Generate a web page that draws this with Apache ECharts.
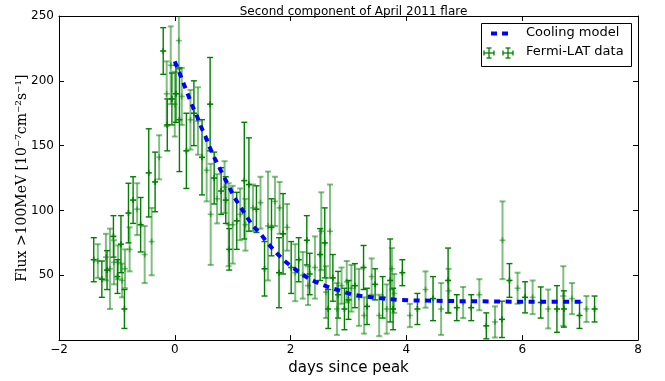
<!DOCTYPE html>
<html><head><meta charset="utf-8">
<script src="https://cdn.jsdelivr.net/npm/echarts@6/dist/echarts.min.js"></script>
<style>html,body{margin:0;padding:0;background:#fff}#c{width:665px;height:381px}</style>
</head><body><div id="c"></div>
<script>
// Fermi-LAT data (days since peak, flux, error)
const dayX = [-1.40,-1.33,-1.26,-1.19,-1.17,-1.12,-1.06,-1.05,-0.99,-0.98,-0.93,-0.91,-0.87,-0.86,-0.80,-0.78,-0.72,-0.65,-0.59,-0.52,-0.45,-0.40,-0.34,-0.27,
 -0.20,-0.14,-0.13,-0.07,-0.05,0.00,0.02,0.07,0.08,0.12,0.20,0.27,0.33,0.40,0.47,0.55,0.61,0.62,0.68,0.73,0.80,0.86,0.88,0.93,0.94,1.00,1.07,1.13,1.20,1.22,1.28,1.35,1.41,1.48,1.55,1.61,1.67,1.73,1.80,1.81,1.87,1.94,
 2.01,2.08,2.14,2.21,2.28,2.30,2.33,2.42,2.51,2.53,2.59,2.61,2.65,2.68,2.73,2.80,2.82,2.88,2.93,2.97,3.00,3.05,3.11,3.18,3.26,3.27,3.32,3.40,3.46,3.53,3.59,3.66,3.72,3.75,3.77,3.79,3.93,
 4.06,4.19,4.33,4.46,4.60,4.72,4.73,4.87,4.98,5.12,5.26,5.38,5.53,5.65,5.66,5.78,5.92,6.05,6.18,6.32,6.45,6.60,6.71,6.72,6.86,6.99,7.11,7.25];
const flux = [62,61,47,64,54,55,80,60,49,60,74,46,24,55,98,70,108,101,89,66,129,76,122,141,
 223,190,166,212,186,182,190,231,170,188,146,170,175,169,141,131,182,97,125,109,115,118,108,89,70,89,92,97,123,89,120,102,101,106,55,88,87,107,52,102,82,87,
 56,52,62,50,77,42,51,56,66,84,75,37,24,84,48,24,35,42,24,45,31,40,42,33,56,19,26,49,43,19,33,24,46,55,24,36,52,
 19,24,39,32,24,46,38,25,29,25,35,11,14,16,77,46,40,33,33,29,24,24,34,24,32,19,24,24];
const fluxErr = [17,13,14,18,15,31,16,17,13,13,22,13,15,15,23,17,18,20,21,22,34,26,23,17,
 18,25,20,30,20,25,22,22,40,22,29,23,25,26,29,24,36,39,20,19,18,20,18,32,16,30,22,20,45,20,36,18,18,20,21,42,22,19,27,20,31,18,
 20,22,17,18,19,15,16,24,20,30,27,20,15,36,18,20,18,14,16,16,15,18,17,22,17,14,14,14,12,16,16,19,32,16,16,15,10,
 9,12,14,17,20,25,17,10,12,10,12,10,12,14,30,13,12,12,13,12,15,18,23,14,12,10,10,10];
// Cooling model
const modelX = [0,0.09,0.16,0.23,0.30,0.38,0.45,0.53,0.60,0.68,0.77,0.86,0.94,1.03,1.13,1.23,1.35,1.48,1.60,1.74,1.87,2.01,2.16,2.33,2.53,2.71,2.90,3.08,3.27,3.47,3.66,3.86,4.06,4.5,5.0,5.5,6.0,6.5,7.1];
const modelY = [215,205,197,189,181,173,165,157,149,141,133,125,118,110,103,96,88,82,75,68,62,57,52,47,43,40,37.5,35,33.7,32.7,31.7,31,30.7,30.3,30,29.8,29.6,29.5,29.5];
const xTicks = [-2,0,2,4,6,8];
const yTicks = [50,100,150,200,250];

const chart = echarts.init(document.getElementById('c'), null, {renderer:'canvas'});
const errData = dayX.map((x,i)=>[x, flux[i], fluxErr[i], i%2]);
const modelData = modelX.map((x,i)=>[x, modelY[i]]);
const DARK = '#007f00', LIGHT = 'rgba(0,128,0,0.5)';

function renderErr(params, api){
  const x = api.value(0), y = api.value(1), e = api.value(2), light = api.value(3) === 1;
  const c = api.coord([x,y]), t = api.coord([x,y+e]), b = api.coord([x,y-e]);
  const col = light ? LIGHT : DARK, lw = light ? 2 : 1.4;
  const st = {stroke: col, lineWidth: lw, fill: null};
  return {type:'group', children:[
    {type:'line', shape:{x1:c[0],y1:t[1],x2:c[0],y2:b[1]}, style:st},
    {type:'line', shape:{x1:c[0]-3,y1:t[1],x2:c[0]+3,y2:t[1]}, style:st},
    {type:'line', shape:{x1:c[0]-3,y1:b[1],x2:c[0]+3,y2:b[1]}, style:st},
    {type:'line', shape:{x1:c[0]-3,y1:c[1],x2:c[0]+3,y2:c[1]}, style:{stroke:col,lineWidth:1.6}},
    {type:'line', shape:{x1:c[0],y1:c[1]-3,x2:c[0],y2:c[1]+3}, style:{stroke:col,lineWidth:1.6}}
  ]};
}
const minus = v => String(v).replace('-', '\u2212');
const baseX = {type:'value', min:-2, max:8, interval:2, splitLine:{show:false},
  axisLine:{onZero:false, lineStyle:{color:'#000', width:1}},
  axisTick:{inside:true, length:5, lineStyle:{color:'#000'}}};
const baseY = {type:'value', min:0, max:250, interval:50, splitLine:{show:false},
  axisLine:{onZero:false, lineStyle:{color:'#000', width:1}},
  axisTick:{inside:true, length:5, lineStyle:{color:'#000'}}};
const tickFont = {fontFamily:'DejaVu Sans', fontSize:12, color:'#000'};

function errIcon(cx, cy){
  const s = {stroke:DARK, lineWidth:1.3};
  return [
    {type:'line', z:12, shape:{x1:cx,y1:cy-5,x2:cx,y2:cy+5}, style:s},
    {type:'line', z:12, shape:{x1:cx-2.5,y1:cy-5,x2:cx+2.5,y2:cy-5}, style:s},
    {type:'line', z:12, shape:{x1:cx-2.5,y1:cy+5,x2:cx+2.5,y2:cy+5}, style:s},
    {type:'line', z:12, shape:{x1:cx-5,y1:cy,x2:cx+5,y2:cy}, style:s},
    {type:'line', z:12, shape:{x1:cx-5,y1:cy-2.5,x2:cx-5,y2:cy+2.5}, style:s},
    {type:'line', z:12, shape:{x1:cx+5,y1:cy-2.5,x2:cx+5,y2:cy+2.5}, style:s}
  ];
}

chart.setOption({
  animation:false,
  backgroundColor:'#fff',
  title:{text:'Second component of April 2011 flare', left:348.5, textAlign:'center', top:1,
    textStyle:{fontFamily:'DejaVu Sans', fontSize:12, fontWeight:'normal', color:'#000'}},
  grid:{left:59, right:27, top:16, bottom:38},
  xAxis:[
    Object.assign({}, baseX, {position:'bottom', name:'days since peak', nameLocation:'middle', nameGap:19,
      nameTextStyle:{fontFamily:'DejaVu Sans', fontSize:15, color:'#000'},
      axisLabel:Object.assign({formatter:minus, margin:4}, tickFont)}),
    Object.assign({}, baseX, {position:'top', axisLabel:{show:false}})
  ],
  yAxis:[
    Object.assign({}, baseY, {position:'left',
      name:'Flux >100MeV [10\u207B\u2077cm\u207B\u00B2s\u207B\u00B9]', nameLocation:'middle', nameGap:30, nameRotate:90,
      nameMoveOverlap:false,
      nameTextStyle:{fontFamily:'DejaVu Serif', fontSize:14, color:'#000'},
      axisLabel:Object.assign({formatter: v => v===0 ? '' : String(v), margin:5}, tickFont)}),
    Object.assign({}, baseY, {position:'right', axisLabel:{show:false}})
  ],
  series:[
    {name:'Fermi-LAT data', type:'custom', renderItem:renderErr, data:errData, clip:true, encode:{x:0,y:1}, z:2},
    {name:'Cooling model', type:'line', data:modelData, showSymbol:false, symbol:'none', z:3,
      lineStyle:{color:'#0000ff', width:4, type:[6,5.5]}}
  ],
  graphic:[
    {type:'rect', z:10, shape:{x:481.5,y:23.5,width:150,height:43}, style:{fill:'#fff', stroke:'#000', lineWidth:1}},
    {type:'line', z:12, shape:{x1:491,y1:33.5,x2:497,y2:33.5}, style:{stroke:'#0000ff', lineWidth:4}},
    {type:'line', z:12, shape:{x1:502,y1:33.5,x2:508,y2:33.5}, style:{stroke:'#0000ff', lineWidth:4}},
    {type:'text', z:12, left:526, top:26, style:{text:'Cooling model', font:'13px "DejaVu Sans"', fill:'#000'}},
    ...errIcon(489, 53), ...errIcon(508, 53),
    {type:'text', z:12, left:526, top:45, style:{text:'Fermi-LAT data', font:'13px "DejaVu Sans"', fill:'#000'}}
  ]
});
</script></body></html>
